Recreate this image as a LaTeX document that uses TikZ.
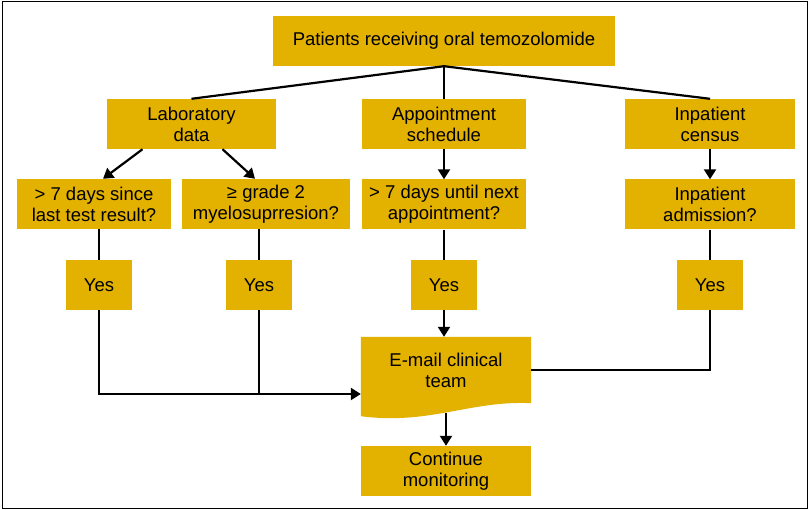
\documentclass[tikz,border=0pt]{standalone}
\usepackage{fontspec}
\setmainfont{Liberation Sans}
\usetikzlibrary{arrows.meta}
\definecolor{gold}{RGB}{227,177,0}
\pgfdeclarelayer{bg}
\pgfsetlayers{bg,main}
\tikzstyle{arrow} = [line width=2.2pt,-{Triangle[length=10pt,width=12pt]}]
\tikzstyle{link} = [line width=2.2pt]
\tikzstyle{goldRec} = [rectangle, fill=gold, minimum height=50pt, inner sep=0pt, text centered, align=center, font=\fontsize{18.5}{21}\selectfont]

\begin{document}
\begin{tikzpicture}[x=1pt, y=-1pt, node distance=80.5pt]
		\useasboundingbox (0,0) rectangle (810,510);
		\draw [line width=1pt] (2,2) rectangle (807,508);
		\node (patients) [goldRec, minimum width=342pt] at (444,41) {Patients receiving oral temozolomide};
		\node (lab) [goldRec, minimum width=169pt] at (191.5,124) {Laboratory\\data};
		\node (appt) [goldRec, minimum width=164pt] at (444,124) {Appointment\\schedule};
		\node (census) [goldRec, minimum width=170pt] at (710,124) {Inpatient\\census};
		\node (q1) [goldRec, minimum width=154pt] at (94,204) {> 7 days since\\last test result?};
		\node (q2) [goldRec, minimum width=168pt] at (266,204) {≥ grade 2\\myelosuprresion?};
		\node (q3) [goldRec, minimum width=164pt, below of=appt] {> 7 days until next\\appointment?};
		\node (q4) [goldRec, minimum width=170pt, below of=census] {Inpatient\\admission?};
		\node (yes1) [goldRec, minimum width=66pt] at (99,285) {Yes};
		\node (yes2) [goldRec, minimum width=66pt] at (259,285) {Yes};
		\node (yes3) [goldRec, minimum width=66pt, below of=q3] {Yes};
		\node (yes4) [goldRec, minimum width=66pt, below of=q4] {Yes};
		\node (email) [goldRec, fill=none, minimum width=170pt, minimum height=66pt] at (446,370) {E-mail clinical\\team};
		\node (cont) [goldRec, minimum width=170pt] at (446,471) {Continue\\monitoring};
		\begin{pgfonlayer}{bg}
			\fill [gold] (email.north west) -- (email.north east) -- (email.south east) .. controls +(-61,-3) and +(69,9) .. ([yshift=-13pt]email.south west) -- cycle;
		\end{pgfonlayer}
		\coordinate (join) at ([yshift=-24pt]email.west);
		\draw [link] (patients.south) -- (lab.north);
		\draw [link] (patients.south) -- (appt.north);
		\draw [link] (patients.south) -- (census.north);
		\draw [arrow] ([xshift=-49pt]lab.south) -- ([xshift=9pt]q1.north);
		\draw [arrow] ([xshift=31pt]lab.south) -- ([xshift=-11pt]q2.north);
		\draw [arrow] (appt) -- (q3);
		\draw [arrow] (census) -- (q4);
		\draw [link] (yes1 |- q1.south) -- (yes1);
		\draw [link] (yes2 |- q2.south) -- (yes2);
		\draw [link] (q3) -- (yes3);
		\draw [link] (q4) -- (yes4);
		\draw [arrow] (yes1) |- (join);
		\draw [link] (yes2) -- (yes2 |- join);
		\draw [arrow] (yes3) -- (yes3 |- email.north);
		\draw [link] (yes4) |- (email.east);
		\draw [arrow] ([yshift=-10pt]email.south) -- (cont);
	\end{tikzpicture}
\end{document}
